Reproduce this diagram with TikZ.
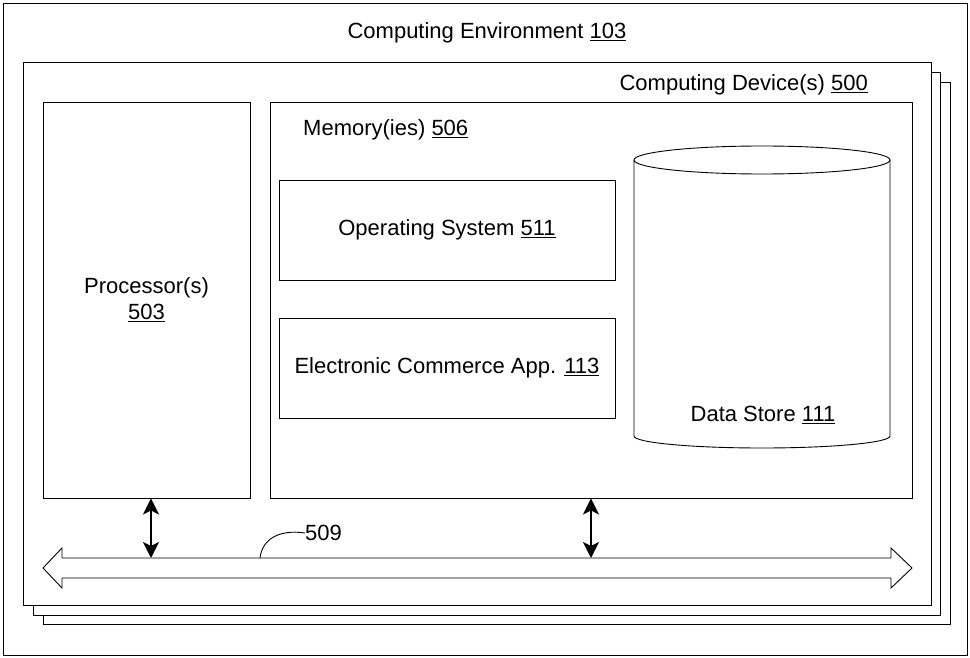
\documentclass[tikz,border=0pt]{standalone}
\usepackage{fontspec}
\setmainfont{Liberation Sans}
\usetikzlibrary{arrows.meta}
\usetikzlibrary{positioning}
\tikzset{
    box/.style={draw=black, line width=0.9pt, fill=white, inner sep=0pt},
    caption/.style={font=\fontsize{22}{26}\selectfont, inner sep=0pt},
    bus link/.style={line width=2.6pt, {Stealth[length=16pt,width=16pt,inset=4pt]}-{Stealth[length=16pt,width=16pt,inset=4pt]}},
}
\newcommand{\refnum}[1]{\underline{#1}}

\begin{document}
\begin{tikzpicture}[x=1pt,y=-1pt]
\useasboundingbox (0,0) rectangle (970,658);
% environment and stacked devices
\draw[line width=0.9pt] (3,3) rectangle (967,655);
\node[caption] (envlbl) at (487,33) {Computing Environment \refnum{103}};
\draw[box] (43,82) rectangle (950,624);
\draw[box] (33,72) rectangle (940,615);
\draw[box] (23,62) rectangle (931,605);
\node[caption, anchor=east] (devlbl) at (868,85) {Computing Device(s) \refnum{500}};
% processor and memory
\node[box, minimum width=207, minimum height=396] (proc) at (146.5,300) {};
\node[caption, align=center] (proclbl) at (proc) {Processor(s)\\[0pt]\refnum{503}};
\node[box, minimum width=642, minimum height=396] (mem) at (591,300) {};
\node[caption, anchor=west] (memlbl) at (303,130) {Memory(ies) \refnum{506}};
\node[box, minimum width=336, minimum height=100] (os) at (447,230) {};
\node[caption] (oslbl) at (os) {Operating System \refnum{511}};
\node[box, minimum width=336, minimum height=100] (app) at (447,368) {};
\node[caption] (applbl) at (app) {Electronic Commerce App. \refnum{113}};
% data store
\draw[line width=0.9pt] (762,160) ellipse [x radius=128, y radius=14];
\draw[line width=0.9pt] (634,160) -- (634,436) arc[start angle=180, end angle=0, x radius=128, y radius=12] -- (890,160);
\node[caption] (storelbl) at (763,415) {Data Store \refnum{111}};
% bus 509
\draw[line width=0.9pt, fill=white] (43,568) -- (62,548) -- (62,558) -- (891,558) -- (891,548) -- (912,568)
    -- (891,588) -- (891,578) -- (62,578) -- (62,588) -- cycle;
\coordinate (tap1) at (151,558);
\coordinate (tap2) at (591,558);
\coordinate (lead) at (260,558);
\draw[bus link] (proc.south -| tap1) -- (tap1);
\draw[bus link] (mem.south -| tap2) -- (tap2);
\node[caption, anchor=west] (buslbl) at (305,533) {509};
\draw[line width=0.9pt] (lead) .. controls (262,540) and (278,529) .. (buslbl.west);
\end{tikzpicture}
\end{document}
